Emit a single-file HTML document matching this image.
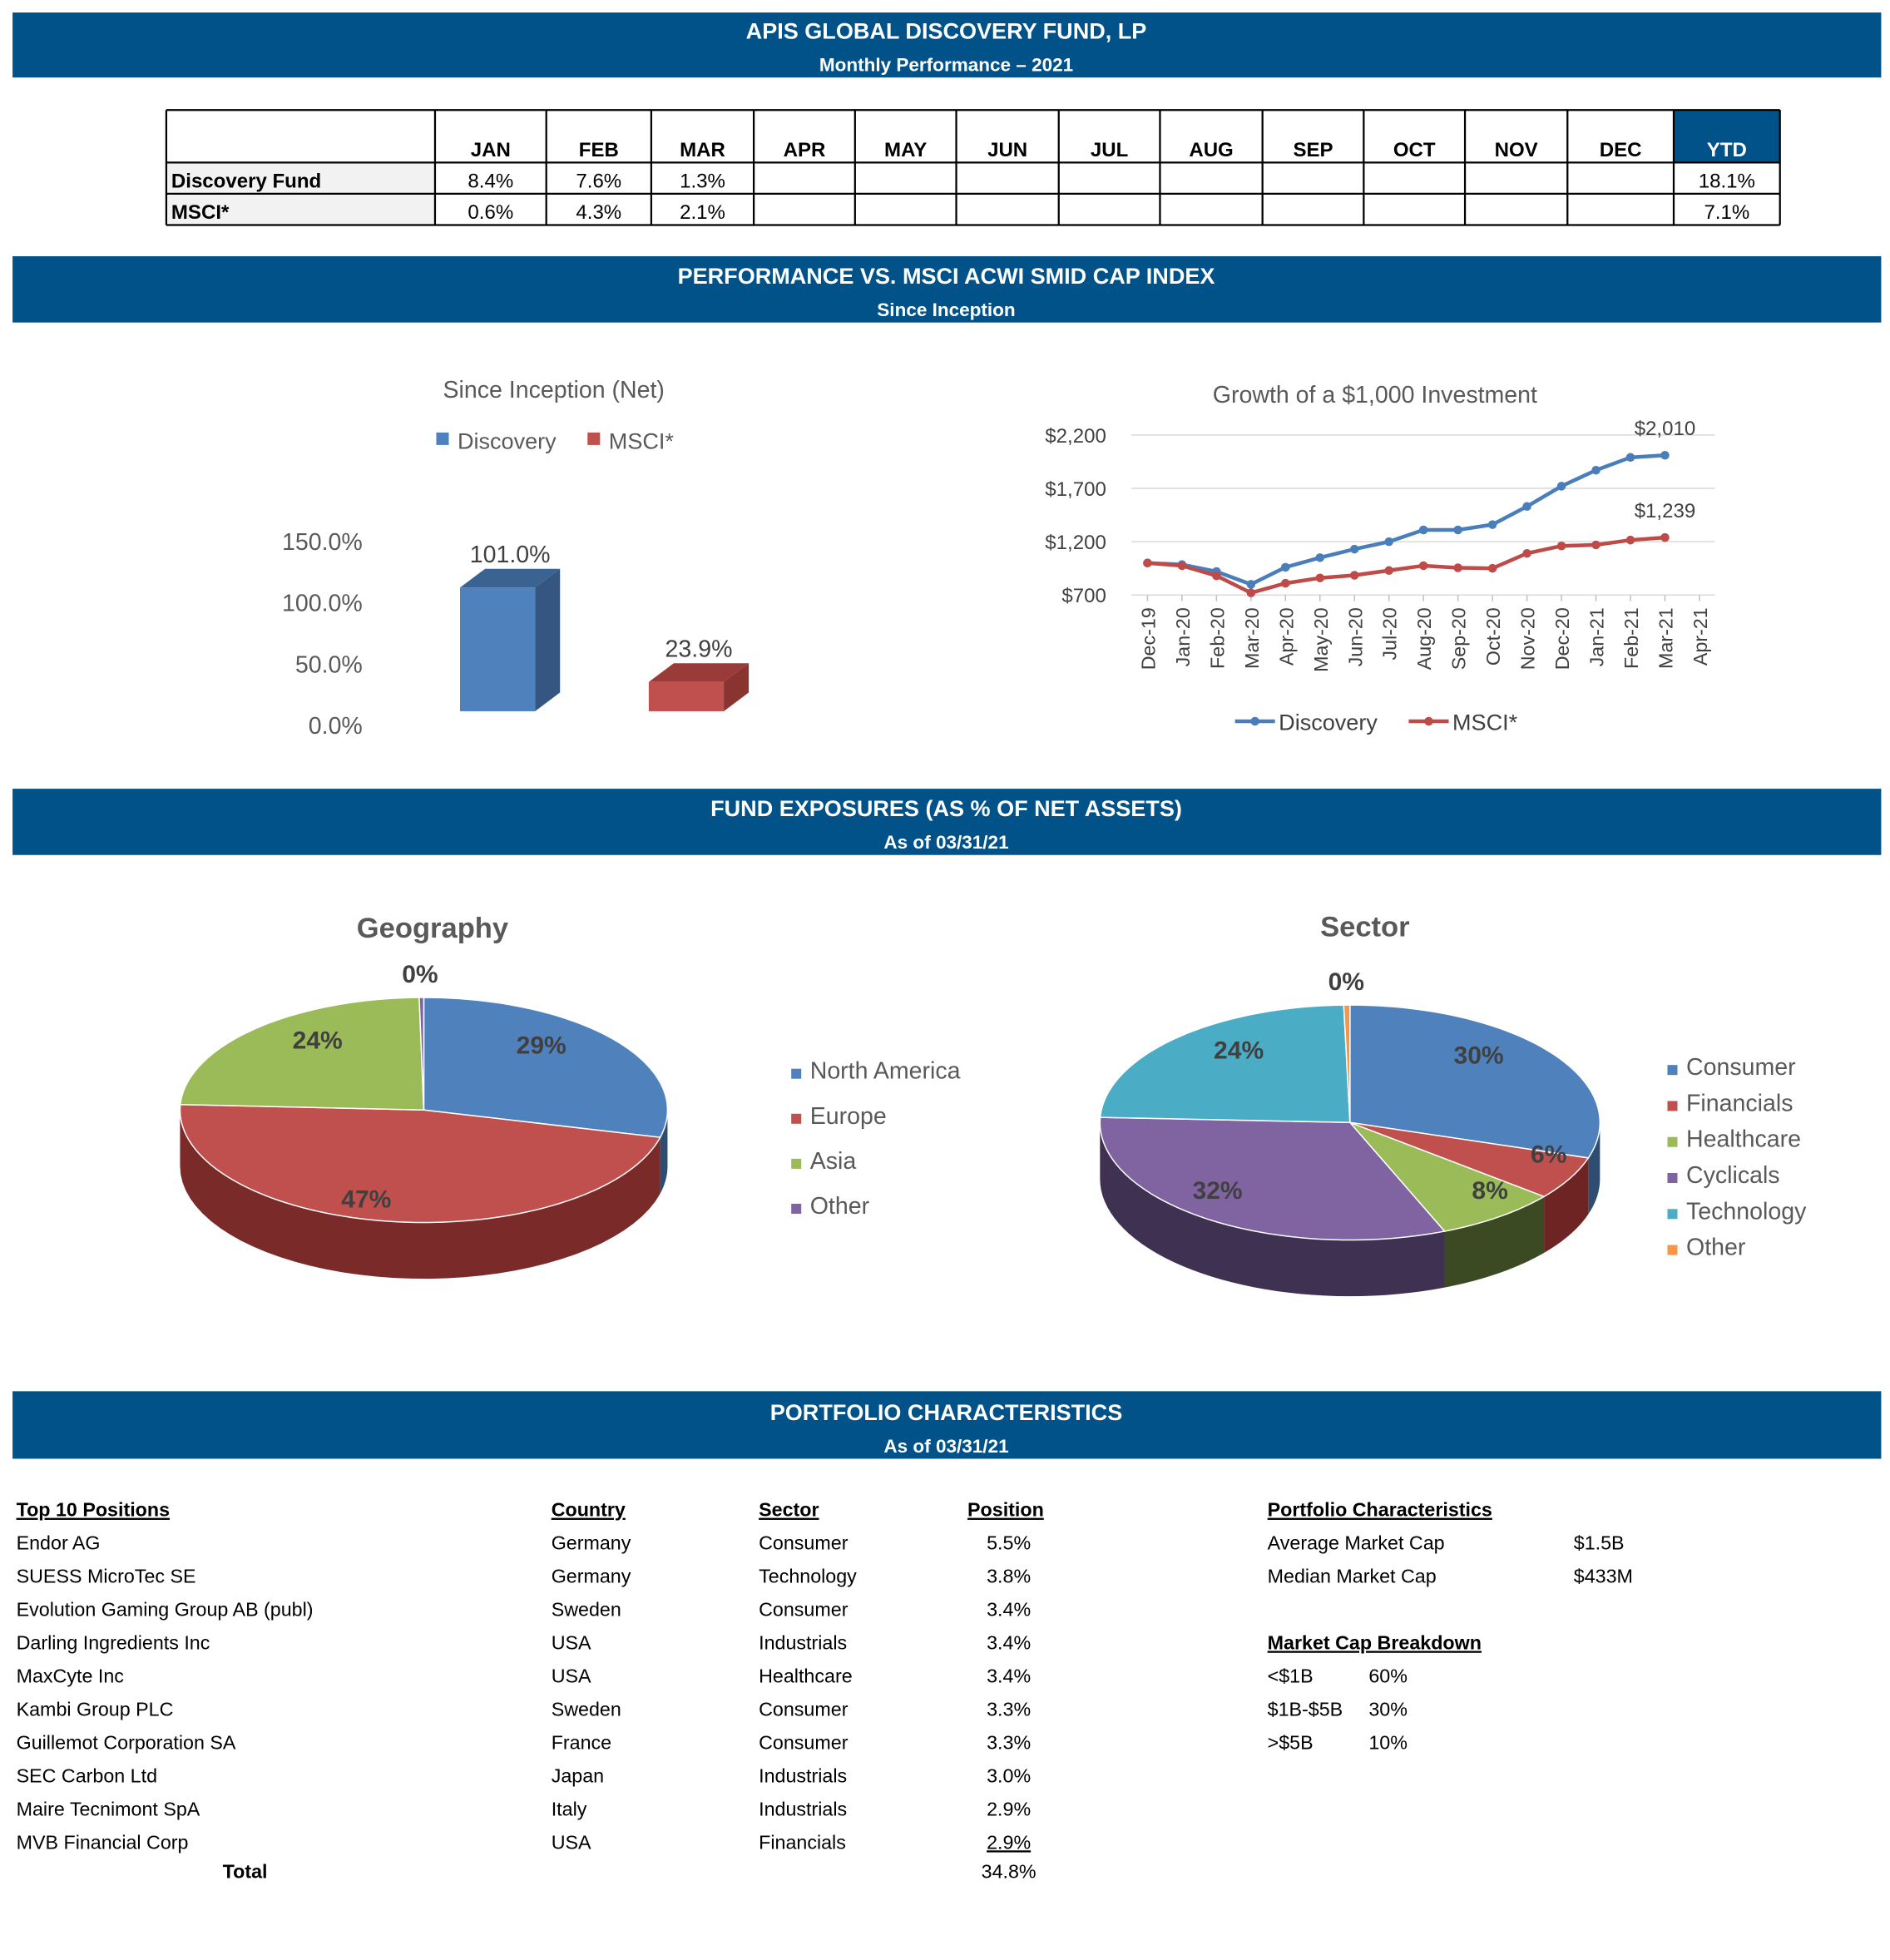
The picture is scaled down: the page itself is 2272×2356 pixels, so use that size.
<!DOCTYPE html>
<html><head><meta charset="utf-8">
<style>
html,body{margin:0;padding:0;background:#fff;}
svg{display:block;font-family:"Liberation Sans",sans-serif;}
.hb{fill:#005288;}
.ht{fill:#fff;font-weight:bold;text-anchor:middle;}
.tc{font-size:16px;text-anchor:middle;fill:#000;}
.th{font-size:16px;font-weight:bold;text-anchor:middle;fill:#000;}
.pt{font-size:15.5px;fill:#000;}
.pu{font-size:15.5px;fill:#000;font-weight:bold;text-decoration:underline;}
</style></head><body>
<svg id="pg" width="2272" height="2356" viewBox="0 0 1512 1568" xmlns="http://www.w3.org/2000/svg">
<g>
<rect class="hb" x="10" y="10" width="1495" height="52"/>
<text class="ht" x="757" y="31" font-size="18">APIS GLOBAL DISCOVERY FUND, LP</text>
<text class="ht" x="757" y="57" font-size="15">Monthly Performance – 2021</text>
</g>
<g>
<rect class="hb" x="10" y="205" width="1495" height="53"/>
<text class="ht" x="757" y="227" font-size="18">PERFORMANCE VS. MSCI ACWI SMID CAP INDEX</text>
<text class="ht" x="757" y="253" font-size="15">Since Inception</text>
</g>
<g>
<rect class="hb" x="10" y="631" width="1495" height="53"/>
<text class="ht" x="757" y="653" font-size="18">FUND EXPOSURES (AS % OF NET ASSETS)</text>
<text class="ht" x="757" y="679" font-size="15">As of 03/31/21</text>
</g>
<g>
<rect class="hb" x="10" y="1113" width="1495" height="54"/>
<text class="ht" x="757" y="1136" font-size="18">PORTFOLIO CHARACTERISTICS</text>
<text class="ht" x="757" y="1162" font-size="15">As of 03/31/21</text>
</g>
<g id="tbl"></g>
<g id="bar"></g>
<g id="line"></g>
<g id="geo"></g>
<g id="sec"></g>
<g id="port"></g>
</svg>
<script>
const NS="http://www.w3.org/2000/svg";
function mk(p,tag,at,txt){const e=document.createElementNS(NS,tag);for(const k in at)e.setAttribute(k,at[k]);if(txt!==undefined)e.textContent=txt;p.appendChild(e);return e;}

const months=["JAN","FEB","MAR","APR","MAY","JUN","JUL","AUG","SEP","OCT","NOV","DEC","YTD"];
const fundRow=["8.4%","7.6%","1.3%","","","","","","","","","","18.1%"];
const msciRow=["0.6%","4.3%","2.1%","","","","","","","","","","7.1%"];
(function(){
const g=document.getElementById('tbl');
const xs=[133,348,437,521,603,684,765,847,928,1010,1091,1172,1254,1339,1424];
const ys=[88,130,155,180];
mk(g,'rect',{x:133,y:130,width:215,height:50,fill:'#f2f2f2'});
const yh=mk(g,'rect',{x:1339,y:88,width:85,height:42,fill:'#005288'});


for(const y of ys)mk(g,'line',{x1:133,x2:1424,y1:y,y2:y,stroke:'#000','stroke-width':1.5});
for(const x of xs)mk(g,'line',{x1:x,x2:x,y1:88,y2:180,stroke:'#000','stroke-width':1.5});
months.forEach((m,i)=>{
 const cx=(xs[i+1]+xs[i+2])/2;
 const t=mk(g,'text',{class:'th',x:cx,y:125,style:i==12?'fill:#fff':''},m);
 
 
 mk(g,'text',{class:'tc',x:cx,y:150},fundRow[i]);
 mk(g,'text',{class:'tc',x:cx,y:175},msciRow[i]);
});
mk(g,'text',{x:137,y:150,'font-size':16,'font-weight':'bold'},'Discovery Fund');
mk(g,'text',{x:137,y:175,'font-size':16,'font-weight':'bold'},'MSCI*');
})();

const barCats=["Discovery","MSCI*"];
const barVals=[101.0,23.9];
const barTicks=[0,50,100,150];
(function(){
const g=document.getElementById('bar');
const base=569, k=0.98;
const y=v=>base-v*k;
mk(g,'text',{x:443,y:318,'font-size':19,'text-anchor':'middle',fill:'#595959'},'Since Inception (Net)');
const cols=[['#4f81bd','#3a6391','#345680'],['#c0504d','#9b3b39','#8a3432']];
const lx=[349,470];
barCats.forEach((c,i)=>{
 const l=mk(g,'g',{});
 
 
 mk(l,'rect',{x:lx[i],y:346,width:10,height:10,fill:cols[i][0]});
 mk(l,'text',{x:lx[i]+17,y:359,'font-size':18,fill:'#595959'},c);
});
barTicks.forEach(t=>{
 const e=mk(g,'text',{x:290,y:y(t)+18,'font-size':19,'text-anchor':'end',fill:'#595959'},t.toFixed(1)+'%');
 
 
});
const bx=[368,519],w=60,dx=20,dy=15;
barVals.forEach((v,i)=>{
 const x=bx[i],top=y(v);
 const b=mk(g,'g',{});
 
 
 mk(b,'polygon',{points:`${x+w},${top} ${x+w+dx},${top-dy} ${x+w+dx},${base-dy} ${x+w},${base}`,fill:cols[i][2]});
 mk(b,'polygon',{points:`${x},${top} ${x+dx},${top-dy} ${x+w+dx},${top-dy} ${x+w},${top}`,fill:cols[i][1]});
 mk(b,'rect',{x:x,y:top,width:w,height:base-top,fill:cols[i][0]});
 mk(g,'text',{x:x+w/2+10,y:top-dy-5,'font-size':19,'text-anchor':'middle',fill:'#404040'},v.toFixed(1)+'%');
});
})();

const lineCats=["Dec-19","Jan-20","Feb-20","Mar-20","Apr-20","May-20","Jun-20","Jul-20","Aug-20","Sep-20","Oct-20","Nov-20","Dec-20","Jan-21","Feb-21","Mar-21","Apr-21"];
const discVals=[1000,985,920,800,960,1050,1130,1200,1310,1310,1360,1530,1720,1870,1990,2010];
const msciVals=[1000,975,880,720,810,860,885,930,975,955,950,1090,1160,1170,1215,1239];
const lineTicks=[700,1200,1700,2200];
(function(){
const g=document.getElementById('line');
const x=i=>918+i*27.6;
const y=v=>476-(v-700)*(128/1500);
mk(g,'text',{x:1100,y:322,'font-size':19,'text-anchor':'middle',fill:'#595959'},'Growth of a $1,000 Investment');
lineTicks.forEach(t=>{
 mk(g,'line',{x1:905,x2:1372,y1:y(t),y2:y(t),stroke:'#d9d9d9'});
 const e=mk(g,'text',{x:885,y:y(t)+6,'font-size':16,'text-anchor':'end',fill:'#404040'},'$'+t.toLocaleString('en-US'));
 
 
});
lineCats.forEach((c,i)=>{
 mk(g,'line',{x1:x(i),x2:x(i),y1:476,y2:481,stroke:'#bfbfbf'});
 const e=mk(g,'text',{x:0,y:0,'font-size':15.5,'text-anchor':'end',fill:'#404040',transform:`translate(${x(i)+6},486) rotate(-90)`},c);
 
 
});
const ser=[[discVals,'#4a7ebb','Discovery'],[msciVals,'#be4b48','MSCI*']];
ser.forEach(([vals,col,nm])=>{
 const p=mk(g,'polyline',{points:vals.map((v,i)=>x(i)+','+y(v)).join(' '),fill:'none',stroke:col,'stroke-width':3});
 
 
 vals.forEach((v,i)=>mk(g,'circle',{cx:x(i),cy:y(v),r:3.5,fill:col}));
 const li=vals.length-1;
 mk(g,'text',{x:x(li),y:y(vals[li])-16,'font-size':16,'text-anchor':'middle',fill:'#404040'},'$'+vals[li].toLocaleString('en-US'));
});
[[988,'#4a7ebb','Discovery'],[1127,'#be4b48','MSCI*']].forEach(([lx,col,nm])=>{
 const l=mk(g,'g',{});
 
 
 mk(l,'line',{x1:lx,x2:lx+32,y1:577,y2:577,stroke:col,'stroke-width':3});
 mk(l,'circle',{cx:lx+16,cy:577,r:3.5,fill:col});
 mk(l,'text',{x:lx+35,y:584,'font-size':18,fill:'#404040'},nm);
});
})();

const geoCats=["North America","Europe","Asia","Other"];
const geoVals=[29,47,24,0.3];
const secCats=["Consumer","Financials","Healthcare","Cyclicals","Technology","Other"];
const secVals=[30,6,8,32,24,0.4];
function pie(id,title,tx,ty,cats,vals,cols,cx,cy,rx,ry,dep,lgx,lgy,lgstep,labelPos){
 const g=document.getElementById(id);
 mk(g,'text',{x:tx,y:ty,'font-size':23,'font-weight':'bold','text-anchor':'middle',fill:'#595959'},title);
 const tot=vals.reduce((a,b)=>a+b,0);
 const pt=(th,d)=>[cx+rx*Math.sin(th),cy-ry*Math.cos(th)+(d||0)];
 let a=0;const angs=[];
 vals.forEach(v=>{const b=a+v/tot*2*Math.PI;angs.push([a,b]);a=b;});
 angs.forEach(([s,e],i)=>{
  const lo=Math.max(s,Math.PI/2),hi=Math.min(e,3*Math.PI/2);
  if(hi<=lo)return;
  let d='';const n=40;
  for(let j=0;j<=n;j++){const p=pt(lo+(hi-lo)*j/n);d+=(j?'L':'M')+p[0]+','+p[1];}
  for(let j=n;j>=0;j--){const p=pt(lo+(hi-lo)*j/n,dep);d+='L'+p[0]+','+p[1];}
  mk(g,'path',{d:d+'Z',fill:cols[i][1]});
 });
 angs.forEach(([s,e],i)=>{
  let d='M'+cx+','+cy;const n=Math.max(2,Math.ceil((e-s)*40));
  for(let j=0;j<=n;j++){const p=pt(s+(e-s)*j/n);d+='L'+p[0]+','+p[1];}
  const sl=mk(g,'path',{d:d+'Z',fill:cols[i][0],stroke:'#fff','stroke-width':1});
  
  
  const l=mk(g,'g',{});
  
  
  mk(l,'rect',{x:lgx,y:lgy+i*lgstep-8,width:8,height:8,fill:cols[i][0]});
  mk(l,'text',{x:lgx+15,y:lgy+i*lgstep,'font-size':19,fill:'#595959'},cats[i]);
 });
 vals.forEach((v,i)=>{
  const lp=labelPos[i];
  const t=mk(g,'text',{x:lp[0],y:lp[1],'font-size':20,'font-weight':'bold','text-anchor':'middle',fill:'#404040'},Math.round(v)+'%');
  
  
 });
}
pie('geo','Geography',346,750,geoCats,geoVals,
 [['#4f81bd','#2f4d71'],['#c0504d','#7a2a28'],['#9bbb59','#5d7035'],['#8064a2','#4c3c61']],
 339,888,195,90,45,633,863,36,
 [[433,843],[293,966],[254,839],[336,786]]);
pie('sec','Sector',1092,749,secCats,secVals,
 [['#4f81bd','#2f4d71'],['#c0504d','#6e2422'],['#9bbb59','#3b4a22'],['#8064a2','#3f3152'],['#4bacc6','#2d6776'],['#f79646','#94592a']],
 1080,898,200,94,45,1334,860,28.8,
 [[1183,851],[1239,930],[1192,959],[974,959],[991,847],[1077,792]]);

const posNames=["Endor AG","SUESS MicroTec SE","Evolution Gaming Group AB (publ)","Darling Ingredients Inc","MaxCyte Inc","Kambi Group PLC","Guillemot Corporation SA","SEC Carbon Ltd","Maire Tecnimont SpA","MVB Financial Corp"];
const posCountry=["Germany","Germany","Sweden","USA","USA","Sweden","France","Japan","Italy","USA"];
const posSector=["Consumer","Technology","Consumer","Industrials","Healthcare","Consumer","Consumer","Industrials","Industrials","Financials"];
const posWeight=["5.5%","3.8%","3.4%","3.4%","3.4%","3.3%","3.3%","3.0%","2.9%","2.9%"];
(function(){
const g=document.getElementById('port');
const y0=1213,st=26.6;
mk(g,'text',{class:'pu',x:13,y:y0},'Top 10 Positions');
mk(g,'text',{class:'pu',x:441,y:y0},'Country');
mk(g,'text',{class:'pu',x:607,y:y0},'Sector');
mk(g,'text',{class:'pu',x:774,y:y0},'Position');
posNames.forEach((n,i)=>{
 const yy=y0+(i+1)*st;
 const r=mk(g,'g',{});
 
 
 mk(r,'text',{class:'pt',x:13,y:yy},n);
 mk(r,'text',{class:'pt',x:441,y:yy},posCountry[i]);
 mk(r,'text',{class:'pt',x:607,y:yy},posSector[i]);
 const w=mk(r,'text',{class:'pt',x:807,y:yy,'text-anchor':'middle'},posWeight[i]);
 if(i==9)w.setAttribute('text-decoration','underline');
});
mk(g,'text',{class:'pt',x:196,y:y0+11*st-3,'text-anchor':'middle','font-weight':'bold'},'Total');
mk(g,'text',{class:'pt',x:807,y:y0+11*st-3,'text-anchor':'middle'},'34.8%');
mk(g,'text',{class:'pu',x:1014,y:y0},'Portfolio Characteristics');
mk(g,'text',{class:'pt',x:1014,y:y0+st},'Average Market Cap');
mk(g,'text',{class:'pt',x:1259,y:y0+st},'$1.5B');
mk(g,'text',{class:'pt',x:1014,y:y0+2*st},'Median Market Cap');
mk(g,'text',{class:'pt',x:1259,y:y0+2*st},'$433M');
mk(g,'text',{class:'pu',x:1014,y:y0+4*st},'Market Cap Breakdown');
[["<$1B","60%"],["$1B-$5B","30%"],[">$5B","10%"]].forEach((r,i)=>{
 mk(g,'text',{class:'pt',x:1014,y:y0+(5+i)*st},r[0]);
 mk(g,'text',{class:'pt',x:1095,y:y0+(5+i)*st},r[1]);
});
})();
</script>
</body></html>
